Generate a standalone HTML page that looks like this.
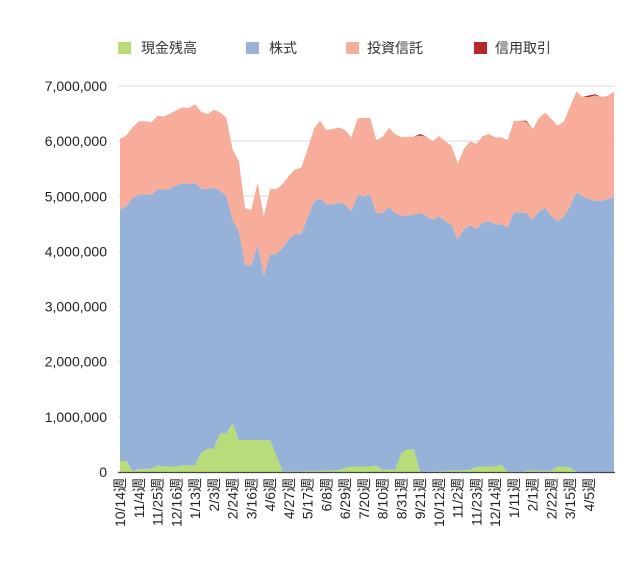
<!DOCTYPE html>
<html><head><meta charset="utf-8"><style>
body{margin:0;background:#fff;}
svg{display:block;font-family:"Liberation Sans","Noto Sans CJK JP",sans-serif;}
</style></head><body>
<svg id="chart" width="640" height="569" viewBox="0 0 640 569">
<g id="legend">
<g><rect x="118" y="42" width="13" height="12" fill="#b8dc7a"/><text x="141" y="53" font-size="14" fill="#333">現金残高</text></g>
<g><rect x="246" y="42" width="13" height="12" fill="#97b2d9"/><text x="269" y="53" font-size="14" fill="#333">株式</text></g>
<g><rect x="346" y="42" width="13" height="12" fill="#f8ad9b"/><text x="367" y="53" font-size="14" fill="#333">投資信託</text></g>
<g><rect x="474" y="42" width="13" height="12" fill="#b22a26"/><text x="495" y="53" font-size="14" fill="#333">信用取引</text></g>
</g>
<g id="grid"></g>
<g id="areas"></g>
<g id="yaxis"></g>
<g id="xaxis"></g>
</svg>
<script>
const totalTop=[6.04,6.10,6.25,6.36,6.36,6.34,6.46,6.45,6.50,6.56,6.61,6.60,6.67,6.53,6.49,6.57,6.52,6.43,5.85,5.64,4.79,4.75,5.25,4.64,5.13,5.13,5.22,5.37,5.49,5.52,5.85,6.22,6.37,6.20,6.22,6.25,6.20,6.07,6.41,6.42,6.42,6.02,6.08,6.24,6.13,6.07,6.08,6.08,6.13,6.08,6.00,6.09,6.00,5.92,5.60,5.86,6.00,5.95,6.09,6.13,6.07,6.07,6.02,6.37,6.37,6.37,6.22,6.42,6.52,6.40,6.28,6.36,6.64,6.90,6.80,6.83,6.85,6.80,6.82,6.90];
const stockTop=[4.76,4.82,4.97,5.03,5.04,5.02,5.13,5.12,5.14,5.20,5.24,5.22,5.25,5.14,5.13,5.16,5.10,5.01,4.58,4.37,3.76,3.74,4.13,3.55,3.95,3.95,4.07,4.22,4.31,4.32,4.61,4.90,4.97,4.85,4.85,4.89,4.85,4.73,5.02,5.00,5.03,4.70,4.70,4.81,4.70,4.64,4.65,4.67,4.70,4.64,4.58,4.64,4.55,4.49,4.22,4.40,4.48,4.41,4.52,4.55,4.49,4.49,4.44,4.71,4.71,4.70,4.58,4.73,4.79,4.64,4.55,4.64,4.82,5.08,5.00,4.95,4.92,4.92,4.95,4.99];
const cash=[0.20,0.20,0.02,0.05,0.06,0.06,0.12,0.10,0.10,0.10,0.12,0.12,0.12,0.35,0.42,0.42,0.70,0.70,0.88,0.58,0.58,0.58,0.58,0.58,0.58,0.30,0.01,0.01,0.01,0.01,0.02,0.02,0.02,0.03,0.03,0.03,0.08,0.10,0.10,0.10,0.10,0.12,0.04,0.04,0.04,0.35,0.41,0.41,0.00,0.005,0.01,0.01,0.02,0.03,0.03,0.03,0.04,0.10,0.10,0.10,0.10,0.13,0.00,0.01,0.00,0.02,0.03,0.02,0.02,0.02,0.10,0.10,0.08,0.00,0.00,0.00,0.00,0.00,0.00,0.00];
const margin=new Array(80).fill(0);margin[48]=0.03;margin[65]=0.02;margin[75]=0.03;margin[76]=0.02;
const yTicks=[0,1,2,3,4,5,6,7];
const yTickLabels=["0","1,000,000","2,000,000","3,000,000","4,000,000","5,000,000","6,000,000","7,000,000"];
const xLabels=["10/14週","11/4週","11/25週","12/16週","1/13週","2/3週","2/24週","3/16週","4/6週","4/27週","5/17週","6/8週","6/29週","7/20週","8/10週","8/31週","9/21週","10/12週","11/2週","11/23週","12/14週","1/11週","2/1週","2/22週","3/15週","4/5週"];
const NS="http://www.w3.org/2000/svg";
const X0=120,X1=614,Y0=472,Y7=86;
const n=totalTop.length;
const xs=i=>X0+(X1-X0)*i/(n-1);
const ys=v=>Y0-(Y0-Y7)*v/7;
// series values derived from cumulative readings
const stock=stockTop.map((t,i)=>t-cash[i]);
const fund=totalTop.map((t,i)=>t-stockTop[i]-margin[i]);
const series=[{name:"area-cash",v:cash,c:"#b8dc7a"},{name:"area-stock",v:stock,c:"#97b2d9"},{name:"area-fund",v:fund,c:"#f8ad9b"},{name:"area-margin",v:margin,c:"#b22a26"}];
const grid=document.getElementById('grid');
yTicks.forEach(t=>{const l=document.createElementNS(NS,'line');


l.setAttribute('x1',X0-2);l.setAttribute('x2',X1+1);l.setAttribute('y1',ys(t));l.setAttribute('y2',ys(t));l.setAttribute('stroke','#e6e6e6');l.setAttribute('stroke-width','1.5');grid.appendChild(l);});
const areas=document.getElementById('areas');
let base=new Array(n).fill(0);
series.forEach(s=>{const top=base.map((b,i)=>b+s.v[i]);
let d='M'+xs(0)+','+ys(top[0]);
for(let i=1;i<n;i++)d+='L'+xs(i)+','+ys(top[i]);
for(let i=n-1;i>=0;i--)d+='L'+xs(i)+','+ys(base[i]);
d+='Z';
const p=document.createElementNS(NS,'path');


p.setAttribute('d',d);p.setAttribute('fill',s.c);areas.appendChild(p);base=top;});
const ya=document.getElementById('yaxis');
yTicks.forEach((t,k)=>{const tx=document.createElementNS(NS,'text');


tx.setAttribute('x',107);tx.setAttribute('y',ys(t)+5);tx.setAttribute('text-anchor','end');tx.setAttribute('font-size','14');tx.setAttribute('fill','#222');tx.textContent=yTickLabels[k];ya.appendChild(tx);});
const xa=document.getElementById('xaxis');
const ax=document.createElementNS(NS,'line');


ax.setAttribute('x1',X0-2);ax.setAttribute('x2',X1+1);ax.setAttribute('y1',Y0+0.5);ax.setAttribute('y2',Y0+0.5);ax.setAttribute('stroke','#444');ax.setAttribute('stroke-width','1.2');xa.appendChild(ax);
xLabels.forEach((lb,k)=>{const x=xs(k*3)+5;const tx=document.createElementNS(NS,'text');


tx.setAttribute('transform','translate('+x+','+(Y0+6)+') rotate(-90)');tx.setAttribute('text-anchor','end');tx.setAttribute('font-size','14');tx.setAttribute('fill','#222');tx.textContent=lb;xa.appendChild(tx);});
</script>
</body></html>
